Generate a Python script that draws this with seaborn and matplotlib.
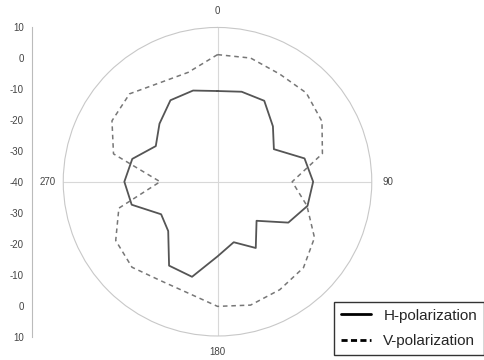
import numpy as np
import pandas as pd
import matplotlib
matplotlib.use("Agg")
import matplotlib.pyplot as plt
import seaborn as sns
from matplotlib.lines import Line2D
from matplotlib.ticker import MultipleLocator

# 측정 각도 (deg) 와 두 편파의 값 (dB)
angles = [0, 15, 30, 45, 60, 75, 90, 105, 120, 135, 150, 165,
          180, 195, 210, 225, 240, 255, 270, 285, 300, 315, 330, 345]
h_pol = [-10.6, -9.8, -9.7, -14.6, -18.9, -10.8, -9.0, -9.8, -13.5, -22.1, -15.2, -19.7,
         -15.8, -8.1, -8.6, -17.4, -18.9, -11.2, -9.8, -11.4, -16.9, -13.4, -9.5, -9.4]
v_pol = [1.2, 1.5, 0.3, 0.7, -0.9, -4.8, -15.8, -10.0, -3.7, -0.6, 0.4, 1.4,
         0.4, -2.7, -3.0, -0.8, -1.9, -6.9, -21.4, -5.1, -0.5, 0.3, -2.9, -3.3]
theta_labels = ["0", "90", "180", "270"]
scale_pos = [-50, -40, -30, -20, -10, 0, 10, 20, 30, 40, 50]
scale_labels = ["10", "0", "-10", "-20", "-30", "-40", "-30", "-20", "-10", "0", "10"]
r_min, r_max = -40, 10


def closed(values):
    # 폐곡선을 만들기 위해 첫 점을 끝에 붙임
    th = np.deg2rad(angles + [360])
    return pd.DataFrame({"theta": th, "r": list(values) + [values[0]]})


sns.set_style("white")
plt.rcParams["font.family"] = ["Liberation Sans", "DejaVu Sans"]

fig = plt.figure(figsize=(4.84, 3.6), dpi=100)
ax = fig.add_axes([0.1306, 0.0667, 0.6376, 0.857], projection="polar")

sns.lineplot(data=closed(h_pol), x="theta", y="r", sort=False, estimator=None,
             color="#555555", lw=1.3, ax=ax)
sns.lineplot(data=closed(v_pol), x="theta", y="r", sort=False, estimator=None,
             color="#777777", lw=1.1, linestyle=(0, (3, 2.5)), ax=ax)

ax.set_theta_zero_location("N")
ax.set_theta_direction(-1)
ax.set_ylim(r_min, r_max)
ax.set_rticks([])
ax.set_thetagrids([0, 90, 180, 270], theta_labels)
ax.xaxis.grid(True, color="#d8d8d8", lw=0.8)
ax.yaxis.grid(False)
ax.spines["polar"].set_color("#c8c8c8")
ax.spines["polar"].set_linewidth(0.8)
ax.tick_params(axis="x", pad=1, labelsize=7, labelcolor="#444444")
ax.set_xlabel("")
ax.set_ylabel("")

# 왼쪽 눈금자
ax2 = fig.add_axes([32 / 484, (360 - 336.7) / 360, 0.001, 310 / 360])
ax2.set_ylim(-50, 50)
ax2.set_yticks(scale_pos)
ax2.set_yticklabels(scale_labels)
ax2.yaxis.set_minor_locator(MultipleLocator(5))
ax2.set_xticks([])
for s in ["top", "right", "bottom"]:
    ax2.spines[s].set_visible(False)
ax2.spines["left"].set_color("#bbbbbb")
ax2.spines["left"].set_linewidth(0.8)
ax2.tick_params(axis="y", which="major", length=4, color="#bbbbbb", labelsize=7,
                labelcolor="#444444", pad=2)
ax2.tick_params(axis="y", which="minor", length=2, color="#bbbbbb")
ax2.patch.set_visible(False)

handles = [Line2D([], [], color="black", lw=2, linestyle="-"),
           Line2D([], [], color="black", lw=2, linestyle=(0, (2.2, 1.2)))]
leg = fig.legend(handles, ["H-polarization", "V-polarization"], loc="lower right",
                 bbox_to_anchor=(1.0, 0.014), frameon=True, fancybox=False,
                 edgecolor="black", fontsize=11, handlelength=1.95, handletextpad=0.8,
                 borderpad=0.45, labelspacing=0.75, borderaxespad=0)
leg.get_frame().set_linewidth(1.0)

fig.savefig("out.png", dpi=100)
